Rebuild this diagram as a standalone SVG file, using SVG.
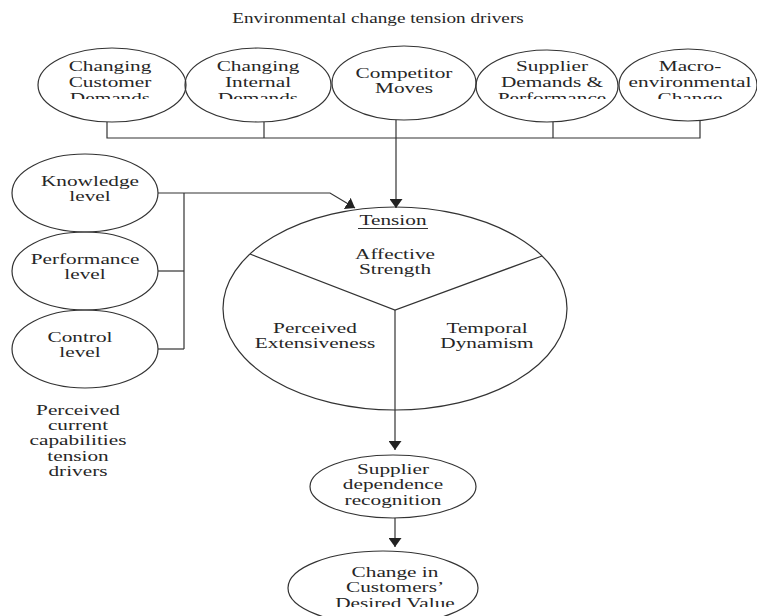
<svg xmlns="http://www.w3.org/2000/svg" width="757" height="616" viewBox="0 0 757 616">
  <style>
    .shape { fill: none; stroke: #333; stroke-width: 1.2; }
    .wire { fill: none; stroke: #333; stroke-width: 1.2; }
    .lbl { font-family: "Liberation Serif", "Times New Roman", serif; font-size: 14px; fill: #262626; text-anchor: middle; }
    .ttl { font-family: "Liberation Serif", "Times New Roman", serif; font-size: 15px; fill: #262626; text-anchor: middle; }
  </style>
  <defs>
    <marker id="head" viewBox="0 0 9 13" refX="9" refY="6.5" markerWidth="9" markerHeight="13" markerUnits="userSpaceOnUse" orient="auto">
      <path d="M0,0 L9,6.5 L0,13 z" fill="#222"/>
    </marker>
    <clipPath id="cutTop" clipPathUnits="userSpaceOnUse"><rect x="0" y="0" width="757" height="99"/></clipPath>
    <clipPath id="cutBottom" clipPathUnits="userSpaceOnUse"><rect x="0" y="0" width="757" height="607"/></clipPath>
  </defs>

  <rect width="757" height="616" fill="#fff"/>

  <text class="ttl" transform="translate(378,23.3) scale(1.28,1)">Environmental change tension drivers</text>

  <!-- environmental drivers -->
  <g id="changing-customer-demands">
    <ellipse class="shape" cx="112" cy="85" rx="74" ry="37"/>
    <text class="lbl" transform="translate(110,70.7) scale(1.52,1.05)"><tspan x="0">Changing</tspan><tspan x="0" dy="15.2">Customer</tspan></text>
    <g clip-path="url(#cutTop)"><text class="lbl" transform="translate(110,102.7) scale(1.52,1.05)">Demands</text></g>
  </g>
  <g id="changing-internal-demands">
    <ellipse class="shape" cx="258" cy="85" rx="73" ry="37"/>
    <text class="lbl" transform="translate(258,70.7) scale(1.52,1.05)"><tspan x="0">Changing</tspan><tspan x="0" dy="15.2">Internal</tspan></text>
    <g clip-path="url(#cutTop)"><text class="lbl" transform="translate(258,102.7) scale(1.52,1.05)">Demands</text></g>
  </g>
  <g id="competitor-moves">
    <ellipse class="shape" cx="404" cy="83" rx="72" ry="37"/>
    <text class="lbl" transform="translate(404,77.5) scale(1.52,1.05)"><tspan x="0">Competitor</tspan><tspan x="0" dy="15">Moves</tspan></text>
  </g>
  <g id="supplier-demands">
    <ellipse class="shape" cx="547" cy="86" rx="71" ry="36"/>
    <text class="lbl" transform="translate(552,71) scale(1.52,1.05)"><tspan x="0">Supplier</tspan><tspan x="0" dy="15">Demands &amp;</tspan></text>
    <g clip-path="url(#cutTop)"><text class="lbl" transform="translate(552,102.7) scale(1.52,1.05)">Performance</text></g>
  </g>
  <g id="macro-environmental-change">
    <ellipse class="shape" cx="688" cy="85" rx="69" ry="36"/>
    <text class="lbl" transform="translate(690,71) scale(1.52,1.05)"><tspan x="0">Macro-</tspan><tspan x="0" dy="15">environmental</tspan></text>
    <g clip-path="url(#cutTop)"><text class="lbl" transform="translate(690,102.7) scale(1.52,1.05)">Change</text></g>
  </g>

  <!-- capability drivers -->
  <g id="knowledge-level">
    <ellipse class="shape" cx="85" cy="193" rx="73" ry="39"/>
    <text class="lbl" transform="translate(90,185.5) scale(1.52,1)"><tspan x="0">Knowledge</tspan><tspan x="0" dy="15.5">level</tspan></text>
  </g>
  <g id="performance-level">
    <ellipse class="shape" cx="85" cy="271" rx="73" ry="39"/>
    <text class="lbl" transform="translate(85,263.5) scale(1.52,1)"><tspan x="0">Performance</tspan><tspan x="0" dy="15.5">level</tspan></text>
  </g>
  <g id="control-level">
    <ellipse class="shape" cx="85" cy="349" rx="73" ry="39"/>
    <text class="lbl" transform="translate(80,342) scale(1.52,1)"><tspan x="0">Control</tspan><tspan x="0" dy="15.5">level</tspan></text>
  </g>
  <g id="capabilities-caption">
    <text class="lbl" transform="translate(78,414.5) scale(1.52,1)"><tspan x="0">Perceived</tspan><tspan x="0" dy="15.5">current</tspan><tspan x="0" dy="15.5">capabilities</tspan><tspan x="0" dy="15.5">tension</tspan><tspan x="0" dy="15.5">drivers</tspan></text>
  </g>

  <!-- tension -->
  <g id="tension">
    <ellipse class="shape" cx="395" cy="308.5" rx="172" ry="101.5"/>
    <polyline class="shape" points="250,254 395,310 542,256"/>
    <text class="lbl" transform="translate(393,225) scale(1.52,1)">Tension</text>
    <line class="shape" x1="358" y1="228.5" x2="428" y2="228.5"/>
    <text class="lbl" transform="translate(395,258.5) scale(1.52,1)"><tspan x="0">Affective</tspan><tspan x="0" dy="15.5">Strength</tspan></text>
    <text class="lbl" transform="translate(315,333) scale(1.52,1)"><tspan x="0">Perceived</tspan><tspan x="0" dy="15.5">Extensiveness</tspan></text>
    <text class="lbl" transform="translate(487,333) scale(1.52,1)"><tspan x="0">Temporal</tspan><tspan x="0" dy="15.5">Dynamism</tspan></text>
  </g>

  <g id="supplier-dependence">
    <ellipse class="shape" cx="393" cy="486.5" rx="83" ry="31.5"/>
    <text class="lbl" transform="translate(393,474) scale(1.52,1)"><tspan x="0">Supplier</tspan><tspan x="0" dy="15.5">dependence</tspan><tspan x="0" dy="15.5">recognition</tspan></text>
  </g>

  <g id="desired-value">
    <ellipse class="shape" cx="383" cy="588" rx="95" ry="37"/>
    <text class="lbl" transform="translate(395,576.5) scale(1.52,1)"><tspan x="0">Change in</tspan><tspan x="0" dy="15.5">Customers’</tspan></text>
    <g clip-path="url(#cutBottom)"><text class="lbl" transform="translate(395,607.5) scale(1.52,1)">Desired Value</text></g>
  </g>

  <!-- connectors -->
  <g id="connectors">
    <polyline class="wire" points="107,122 107,138 700,138 700,120"/>
    <line class="wire" x1="264" y1="122" x2="264" y2="138"/>
    <line class="wire" x1="553" y1="122" x2="553" y2="138"/>
    <line class="wire" x1="396" y1="120" x2="396" y2="208" marker-end="url(#head)"/>
    <polyline class="wire" points="158,193 330,193 355,208" marker-end="url(#head)"/>
    <line class="wire" x1="184" y1="193" x2="184" y2="349"/>
    <line class="wire" x1="158" y1="271" x2="184" y2="271"/>
    <line class="wire" x1="158" y1="349" x2="184" y2="349"/>
    <line class="wire" x1="395" y1="310" x2="395" y2="450" marker-end="url(#head)"/>
    <line class="wire" x1="395" y1="518" x2="395" y2="547" marker-end="url(#head)"/>
  </g>
</svg>
